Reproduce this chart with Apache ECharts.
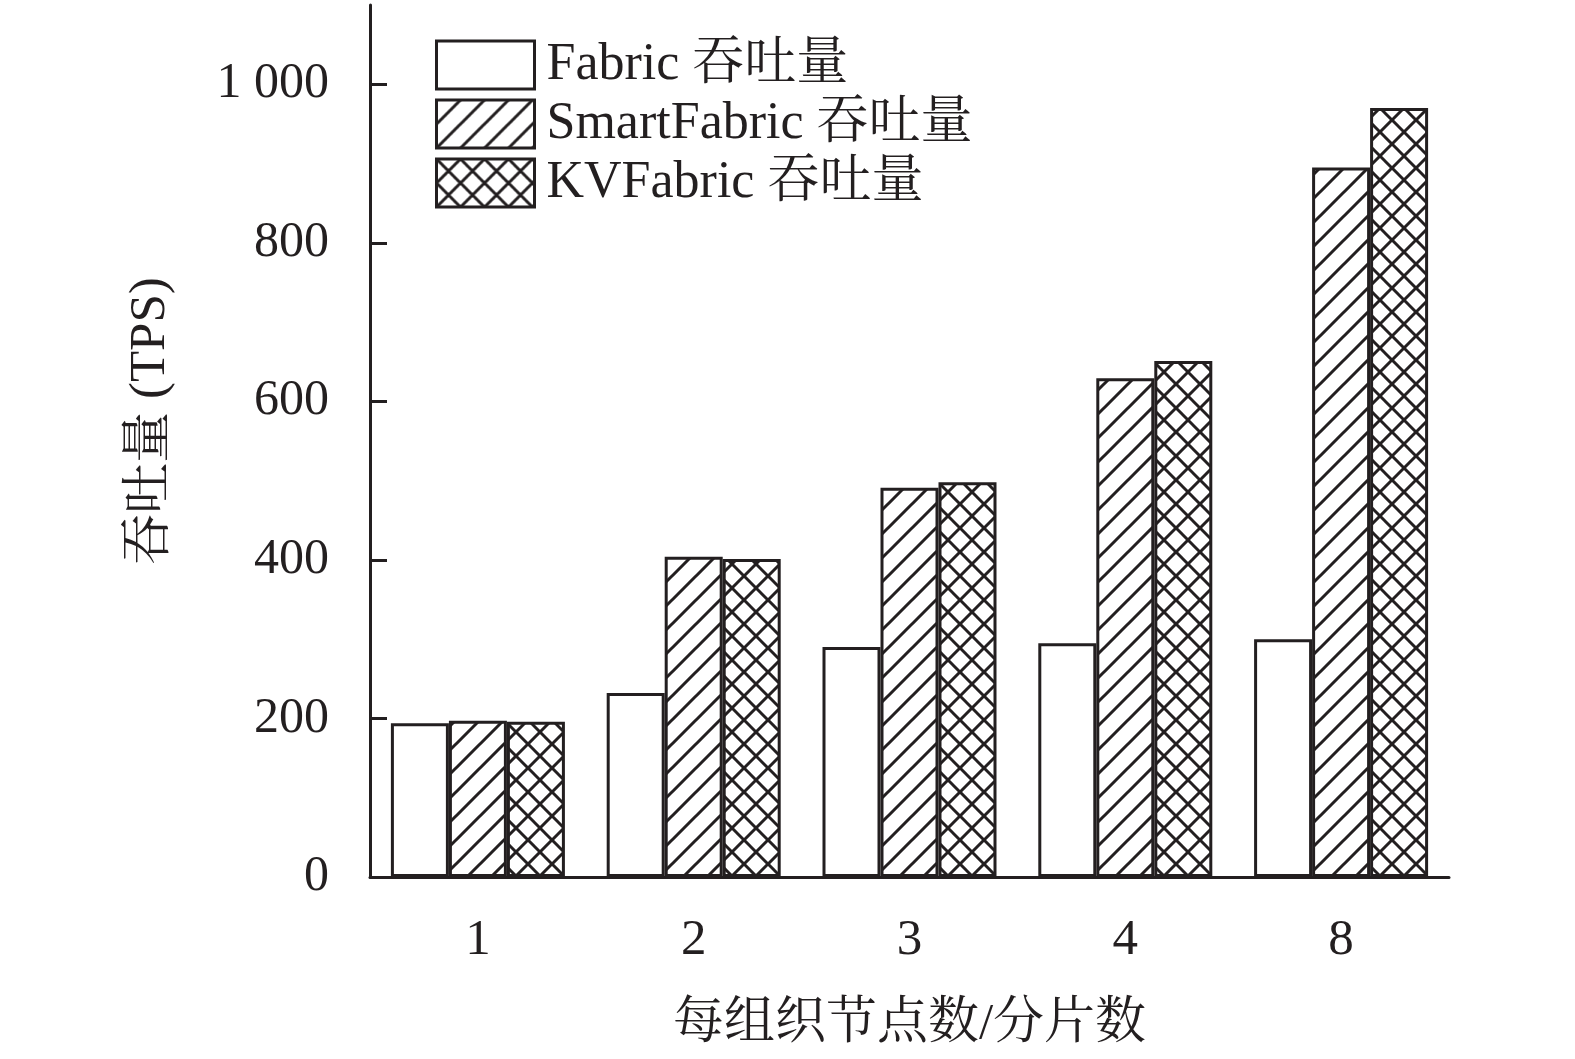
<!DOCTYPE html>
<html>
<head>
<meta charset="utf-8">
<script src="https://cdn.jsdelivr.net/npm/echarts@6/dist/echarts.min.js"></script>
<style>
html,body{margin:0;padding:0;background:#fff;}
#chart{width:1575px;height:1059px;}
</style>
</head>
<body>
<div id="chart"></div>
<script>
const categories = ['1', '2', '3', '4', '8'];
const fabric = [194, 232, 290, 295, 300];
const smartFabric = [197, 404, 491, 629, 895];
const kvFabric = [196, 401, 498, 651, 970];
const seriesNames = ['Fabric 吞吐量', 'SmartFabric 吞吐量', 'KVFabric 吞吐量'];
const yTicks = [0, 200, 400, 600, 800, 1000];

const INK = '#231f20';
const FONT = "'Liberation Serif', 'Noto Serif CJK SC', 'Noto Sans CJK SC', serif";

function makePattern(cross) {
  const s = 24;
  const c = document.createElement('canvas');
  c.width = s; c.height = s;
  const g = c.getContext('2d');
  g.fillStyle = '#fff';
  g.fillRect(0, 0, s, s);
  g.strokeStyle = INK;
  g.lineWidth = 3;
  g.lineCap = 'square';
  function seg(x1, y1, x2, y2) { g.beginPath(); g.moveTo(x1, y1); g.lineTo(x2, y2); g.stroke(); }
  for (let k = -1; k <= 1; k++) seg(k * s, s, k * s + s, 0);
  if (cross) {
    for (let k = -1; k <= 1; k++) seg(k * s, 0, k * s + s, s);
  }
  return c;
}

const chart = echarts.init(document.getElementById('chart'), null, { renderer: 'canvas' });

const baseItem = { borderColor: INK, borderWidth: 3 };

chart.setOption({
  animation: false,
  backgroundColor: '#fff',
  grid: { left: 370, right: 126, top: 5, bottom: 182 },
  legend: {
    orient: 'vertical',
    left: 430, top: 34,
    itemWidth: 98, itemHeight: 48,
    itemGap: 7,
    icon: 'rect',
    itemStyle: { borderWidth: 3, borderColor: INK },
    textStyle: { fontFamily: FONT, fontSize: 52, lineHeight: 48, color: INK, padding: [0, 0, 0, 7] },
    data: seriesNames
  },
  xAxis: {
    type: 'category',
    data: categories,
    name: '每组织节点数/分片数',
    nameLocation: 'middle',
    nameGap: 122,
    nameTextStyle: { fontFamily: FONT, fontSize: 51, color: INK },
    axisLine: { lineStyle: { color: INK, width: 3 } },
    axisTick: { show: true, inside: true, length: 15, alignWithLabel: true, lineStyle: { color: INK, width: 3 } },
    axisLabel: { fontFamily: FONT, fontSize: 51, color: INK, margin: 38 },
    splitLine: { show: false }
  },
  yAxis: {
    type: 'value',
    min: 0, max: 1100, interval: 200,
    name: '吞吐量 (TPS)',
    nameLocation: 'middle',
    nameRotate: 90,
    nameGap: 194,
    nameTextStyle: { fontFamily: FONT, fontSize: 51, color: INK, padding: [0, 0, 0, 40] },
    axisLine: { show: true, lineStyle: { color: INK, width: 3 } },
    axisTick: { show: true, inside: true, length: 17, lineStyle: { color: INK, width: 3 }, customValues: yTicks },
    axisLabel: {
      fontFamily: FONT, fontSize: 50, color: INK, margin: 41,
      customValues: yTicks,
      formatter: v => v >= 1000 ? String(v).replace(/(\d)(\d{3})$/, '$1 $2') : String(v)
    },
    splitLine: { show: false }
  },
  series: [
    {
      name: seriesNames[0], type: 'bar', data: fabric,
      barWidth: 58, barGap: '0%',
      itemStyle: Object.assign({ color: '#fff' }, baseItem)
    },
    {
      name: seriesNames[1], type: 'bar', data: smartFabric,
      barWidth: 58, barGap: '0%',
      itemStyle: Object.assign({ color: { image: makePattern(false), repeat: 'repeat' } }, baseItem)
    },
    {
      name: seriesNames[2], type: 'bar', data: kvFabric,
      barWidth: 58, barGap: '0%',
      itemStyle: Object.assign({ color: { image: makePattern(true), repeat: 'repeat' } }, baseItem)
    }
  ]
});
</script>
</body>
</html>
